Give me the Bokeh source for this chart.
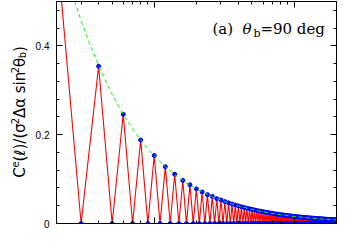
import math
from bokeh.plotting import figure
from bokeh.layouts import row
from bokeh.models import LinearAxis, LogAxis, Label, SingleIntervalTicker, NumeralTickFormatter, FixedTicker
from bokeh.embed import file_html
from bokeh.resources import INLINE

# multipole l = 2 .. 200
ell = list(range(2, 201))
# values at even l (2, 4, ..., 200)
even_vals = [0.630, 0.354, 0.246, 0.188, 0.153, 0.128, 0.111, 0.097, 0.087, 0.078,
             0.071, 0.065, 0.061, 0.056, 0.053, 0.0493, 0.0465, 0.0439, 0.0417, 0.0396,
             0.0377, 0.0360, 0.0345, 0.0331, 0.0318, 0.0306, 0.0294, 0.0284, 0.0274, 0.0265,
             0.0257, 0.0249, 0.0241, 0.0234, 0.0228, 0.0221, 0.0215, 0.0210, 0.0204, 0.0199,
             0.0194, 0.0190, 0.0185, 0.0181, 0.0177, 0.0173, 0.0170, 0.0166, 0.0163, 0.0160,
             0.0157, 0.0154, 0.0151, 0.0148, 0.0145, 0.0143, 0.0140, 0.0138, 0.0136, 0.0133,
             0.0131, 0.0129, 0.0127, 0.0125, 0.0123, 0.0121, 0.0120, 0.0118, 0.0116, 0.0114,
             0.0113, 0.0111, 0.0110, 0.0108, 0.0107, 0.0105, 0.0104, 0.0103, 0.0101, 0.0100,
             0.0099, 0.0098, 0.0096, 0.0095, 0.0094, 0.0093, 0.0092, 0.0091, 0.0090, 0.0089,
             0.0088, 0.0087, 0.0086, 0.0085, 0.0084, 0.0083, 0.0083, 0.0082, 0.0081, 0.0080]
# values at odd l (3, 5, ..., 199) all lie on zero
odd_vals = [0.0] * 99

C = []
for l in ell:
    if l % 2 == 0:
        C.append(even_vals[(l - 2) // 2])
    else:
        C.append(odd_vals[(l - 3) // 2])

# green dashed envelope
env_l = [2.6, 3, 3.5, 4, 4.5, 5, 6, 7, 8, 9, 10, 12, 14, 16, 18, 20, 25, 30, 35, 40,
         50, 60, 70, 80, 100, 120, 150, 200]
env_v = [0.516, 0.457, 0.400, 0.356, 0.320, 0.291, 0.246, 0.213, 0.188, 0.168, 0.152,
         0.128, 0.110, 0.097, 0.0865, 0.078, 0.0627, 0.0525, 0.0451, 0.0395,
         0.0317, 0.0264, 0.0227, 0.0199, 0.0159, 0.0133, 0.0106, 0.0080]

x_major = [10, 100]
x_minor = [2, 3, 4, 5, 6, 7, 8, 9, 20, 30, 40, 50, 60, 70, 80, 90, 200]

H = 229
LW = 32

p = figure(width=337 - LW, height=H, x_axis_type="log", x_range=(2, 201), y_range=(0, 0.5),
           output_backend="svg", toolbar_location=None,
           min_border_left=22, min_border_right=1, min_border_top=1, min_border_bottom=6,
           background_fill_color="white", border_fill_color="white")
p.grid.visible = False
p.outline_line_color = "black"
p.outline_line_width = 1


def style(ax, labels):
    ax.axis_line_color = "black"
    ax.axis_line_width = 1
    ax.major_tick_line_color = "black"
    ax.minor_tick_line_color = "black"
    ax.major_tick_in = 6
    ax.major_tick_out = 0
    ax.minor_tick_in = 3
    ax.minor_tick_out = 0
    if labels:
        ax.major_label_text_font = "Liberation Sans"
        ax.major_label_text_font_size = "10px"
        ax.major_label_text_color = "black"
        ax.major_label_standoff = 7
    else:
        ax.major_label_text_font_size = "1px"
        ax.major_label_text_alpha = 0
        ax.major_label_standoff = 0


bx = p.xaxis[0]
bx.ticker = FixedTicker(ticks=x_major, minor_ticks=x_minor)
style(bx, False)

ly = p.yaxis[0]
ly.ticker = SingleIntervalTicker(interval=0.2, num_minor_ticks=5)
ly.formatter = NumeralTickFormatter(format="0.[0]")
style(ly, True)

tx = LogAxis(ticker=FixedTicker(ticks=x_major, minor_ticks=x_minor))
style(tx, False)
p.add_layout(tx, "above")

ry = LinearAxis(ticker=SingleIntervalTicker(interval=0.2, num_minor_ticks=5))
style(ry, False)
p.add_layout(ry, "right")

p.line(ell, C, line_color="#ff0000", line_width=1.1)
p.scatter(ell, C, size=4, fill_color="#0000ff", line_color="#0000ff")
p.line(env_l, env_v, line_color="#00ff00", line_width=1, line_dash="4 3")

# panel annotation
ann = [
    ("(a) ", "15px", "normal", 0, 0),
    ("\u03b8", "15px", "italic", 30, 0),
    ("b", "11px", "normal", 41, -4),
    ("=90 deg", "15px", "normal", 48, 0),
]
for txt, fs, st, xo, yo in ann:
    p.add_layout(Label(x=24.0, y=0.437, x_offset=xo + 5, y_offset=yo, text=txt,
                       text_font="DejaVu Serif", text_font_size=fs, text_font_style=st,
                       text_color="black", text_align="left", text_baseline="alphabetic"))

# y-axis label panel (rotated text composed of pieces)
lab = figure(width=LW, height=H, x_range=(0, LW), y_range=(0, H),
             output_backend="svg", toolbar_location=None,
             x_axis_location=None, y_axis_location=None, min_border=0,
             background_fill_color="white", border_fill_color="white")
lab.grid.visible = False
lab.outline_line_color = None

big, small = "15px", "10px"
pieces = [
    ("C", big, 0.0, 0),
    ("e", small, 10.5, -5),
    ("(\u2113)/(\u03c3", big, 16.7, 0),
    ("2", small, 55.1, -5),
    ("\u0394\u03b1 sin", big, 61.5, 0),
    ("2", small, 107.9, -5),
    ("\u03b8", big, 114.3, 0),
    ("b", small, 123.3, 3),
    (")", big, 129.7, 0),
]
total = 135.6
cy = H - 114
for txt, fs, s, dx in pieces:
    lab.add_layout(Label(x=19 + dx, y=cy + s - total / 2,
                         text=txt, angle=math.pi / 2, text_font="DejaVu Sans",
                         text_font_size=fs, text_color="black",
                         text_align="left", text_baseline="alphabetic"))

layout = row(lab, p)
open("out.html", "w").write(file_html(layout, INLINE))
